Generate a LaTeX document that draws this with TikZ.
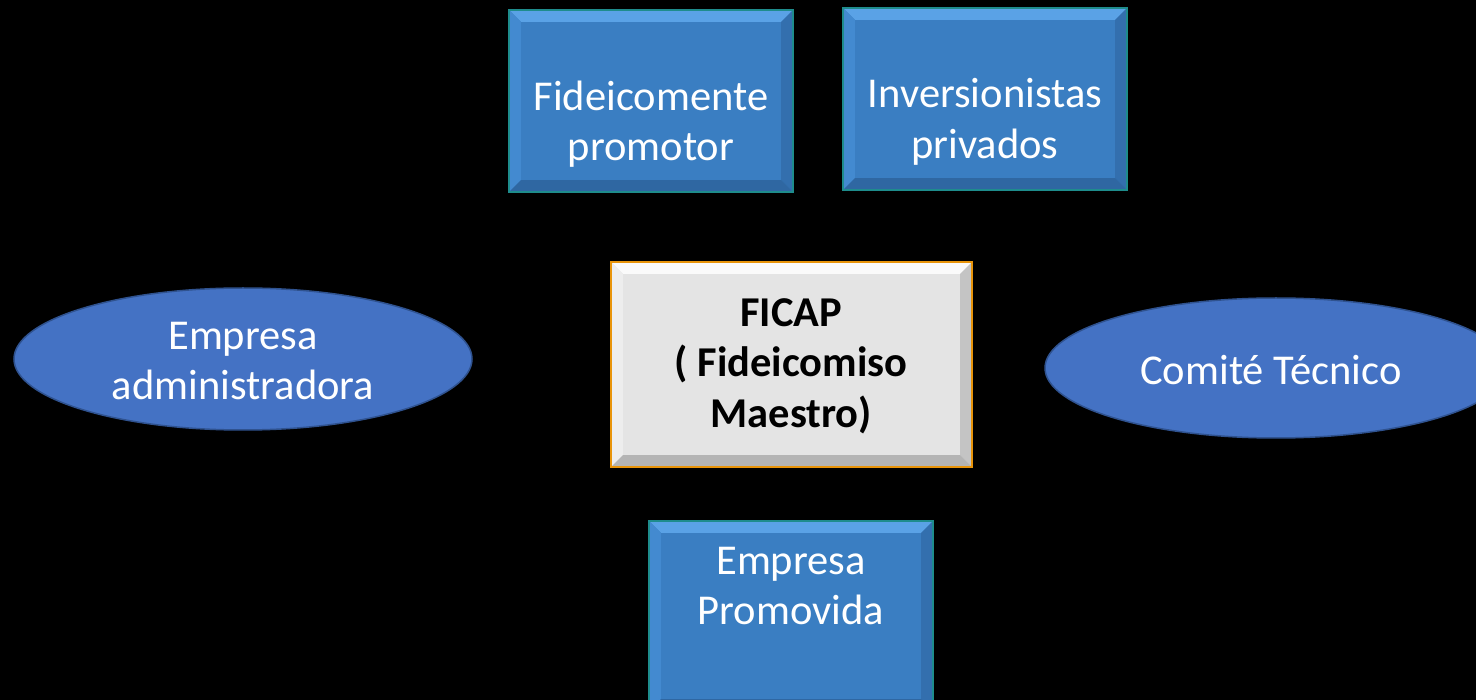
\documentclass[tikz,border=0pt]{standalone}
\usepackage{fontspec}
\setmainfont{Carlito}
\usetikzlibrary{calc,shapes.geometric}
\definecolor{bmain}{HTML}{3A7EC2}
\definecolor{btop}{HTML}{5AA2E6}
\definecolor{bleft}{HTML}{438AD0}
\definecolor{bright}{HTML}{336FAE}
\definecolor{bbottom}{HTML}{2F67A2}
\definecolor{bborder}{HTML}{1E8C8C}
\definecolor{gmain}{HTML}{E4E4E4}
\definecolor{gtop}{HTML}{FAFAFA}
\definecolor{gleft}{HTML}{EDEDED}
\definecolor{gright}{HTML}{C4C4C4}
\definecolor{gbottom}{HTML}{B4B4B4}
\definecolor{gborder}{HTML}{E8940A}
\definecolor{efill}{HTML}{4472C4}
\definecolor{eborder}{HTML}{2F528F}
\newcommand\bevel[3]{%
  \fill[#2top] (#1.north west) -- (#1.north east) -- ([shift={(-#3,#3)}]#1.north east) -- ([shift={(#3,#3)}]#1.north west) -- cycle;
  \fill[#2left] (#1.north west) -- ([shift={(#3,#3)}]#1.north west) -- ([shift={(#3,-#3)}]#1.south west) -- (#1.south west) -- cycle;
  \fill[#2right] (#1.north east) -- ([shift={(-#3,#3)}]#1.north east) -- ([shift={(-#3,-#3)}]#1.south east) -- (#1.south east) -- cycle;
  \fill[#2bottom] (#1.south west) -- ([shift={(#3,-#3)}]#1.south west) -- ([shift={(-#3,-#3)}]#1.south east) -- (#1.south east) -- cycle;
  \draw[#2border, line width=2pt] (#1.north west) rectangle (#1.south east);
}
\begin{document}
\begin{tikzpicture}[x=1pt,y=-1pt,
  bluebox/.style={rectangle, fill=bmain, inner sep=0, minimum width=284pt, minimum height=182pt},
  graybox/.style={rectangle, fill=gmain, inner sep=0, minimum width=361pt, minimum height=205pt},
  oval/.style={ellipse, fill=efill, draw=eborder, line width=1.5pt, inner sep=0},
  lbl/.style={text=white, font=\fontsize{42.5}{50.5}\selectfont, align=center, inner sep=0},
  blbl/.style={text=black, font=\fontsize{42.5}{50.5}\selectfont\bfseries, align=center, inner sep=0}]
\fill[black] (0,0) rectangle (1476,700);
\useasboundingbox (0,0) rectangle (1476,700);

% boxes
\node[bluebox] (fp) at (651,101) {};
\bevel{fp}{b}{12}
\node[bluebox] (ip) at (985,99) {};
\bevel{ip}{b}{12}
\node[graybox] (fc) at (791.5,364.5) {};
\bevel{fc}{g}{12}
\node[bluebox, minimum height=190pt] (ep) at (791,616) {};
\bevel{ep}{b}{12}

% ellipses
\node[oval, minimum width=458pt, minimum height=142pt] (ea) at (243,359) {};
\node[oval, minimum width=462pt, minimum height=140pt] (ct) at (1276,368) {};

% texts
\node[lbl] (fpt) at (fp.center |- 0,124) {Fideicomente\\promotor};
\node[lbl] (ipt) at (ip.center |- 0,122) {Inversionistas\\privados};
\node[blbl] (fct) at (791,366) {FICAP\\( Fideicomiso\\Maestro)};
\node[lbl] (ept) at (791,586) {Empresa\\Promovida};
\node[lbl] (eat) at (243,361) {Empresa\\administradora};
\node[lbl] (ctt) at (1271,370) {Comité Técnico};
\end{tikzpicture}
\end{document}
